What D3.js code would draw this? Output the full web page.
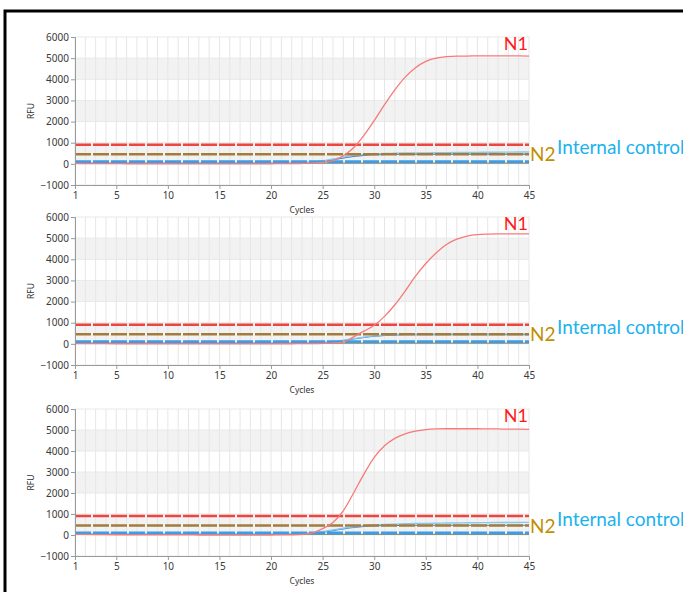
<!DOCTYPE html>
<html><head><meta charset="utf-8">
<script src="https://cdn.jsdelivr.net/npm/d3@7"></script>
<style>body{margin:0;background:#fff}svg{display:block}</style>
</head><body>
<svg id="c" width="683" height="592"></svg>
<script>
const cycles = [1,2,3,4,5,6,7,8,9,10,11,12,13,14,15,16,17,18,19,20,21,22,23,24,25,26,27,28,29,30,31,32,33,34,35,36,37,38,39,40,41,42,43,44,45];
const xTicks = [1,5,10,15,20,25,30,35,40,45];
const yTicks = [-1000,0,1000,2000,3000,4000,5000,6000];
const bands = [[0,1000],[2000,3000],[4000,5000]];
const thresholds = {N1: 900, N2: 450, IC: 100};

// Panel 1
const n1_p1 = [20,15,12,10,8,6,5,5,4,4,3,3,3,2,2,2,2,2,3,5,8,12,20,35,70,150,380,760,1350,2050,2800,3500,4100,4550,4850,5000,5070,5100,5100,5110,5110,5110,5110,5110,5100];
const n2_p1 = [30,30,30,30,30,30,30,30,30,30,30,30,30,30,30,30,30,30,30,30,30,30,30,30,30,30,30,30,30,30,30,30,30,30,30,30,30,30,30,30,30,30,30,30,30];
const icA_p1 = [60,60,60,60,60,60,60,60,60,60,60,60,60,60,60,60,60,60,60,60,62,65,70,85,140,230,320,390,440,470,490,500,510,515,520,525,530,535,540,545,548,552,555,558,560];
const icB_p1 = [50,50,50,50,50,50,50,50,50,50,50,50,50,50,50,50,50,50,50,50,52,55,60,70,110,190,280,350,400,430,450,455,460,462,463,464,465,465,465,465,465,465,465,465,465];

// Panel 2
const n1_p2 = [15,12,10,8,6,5,4,4,3,3,3,2,2,2,2,2,2,2,2,3,4,6,8,12,20,35,80,330,600,880,1300,1850,2500,3200,3800,4300,4700,4950,5100,5170,5190,5200,5200,5200,5200];
const n2_p2 = [30,30,30,30,30,30,30,30,30,30,30,30,30,30,30,30,30,30,30,30,30,30,30,30,30,30,30,30,30,30,30,30,30,30,30,30,30,30,30,30,30,30,30,30,30];
const icA_p2 = [60,60,60,60,60,60,60,60,60,60,60,60,60,60,60,60,60,60,60,60,60,60,62,65,72,100,170,250,320,380,420,445,455,460,462,464,465,466,467,468,468,469,470,470,470];
const icB_p2 = [50,50,50,50,50,50,50,50,50,50,50,50,50,50,50,50,50,50,50,50,50,50,52,55,62,85,150,230,300,360,400,425,435,438,440,440,440,440,440,440,440,440,440,440,440];

// Panel 3
const n1_p3 = [30,25,20,16,12,10,8,6,5,4,3,2,1,0,-2,-4,-5,-5,-4,0,5,10,25,90,300,600,1150,2000,2900,3700,4250,4600,4820,4950,5020,5050,5060,5060,5060,5060,5050,5050,5040,5040,5030];
const n2_p3 = [30,30,30,30,30,30,30,30,30,30,30,30,30,30,30,30,30,30,30,30,30,30,30,30,30,30,30,30,30,30,30,30,30,30,30,30,30,30,30,30,30,30,30,30,30];
const icA_p3 = [60,60,60,60,60,60,60,60,60,60,60,60,60,60,60,60,60,60,60,60,62,65,75,100,160,240,320,390,440,475,500,520,535,545,555,562,568,574,580,585,589,593,596,598,600];
const icB_p3 = [50,50,50,50,50,50,50,50,50,50,50,50,50,50,50,50,50,50,50,50,52,56,65,90,140,210,290,360,410,440,455,460,462,464,465,465,465,465,465,465,465,465,465,465,465];

const panels = [
  {top: 37, bottom: 185, n1: n1_p1, n2: n2_p1, icA: icA_p1, icB: icB_p1},
  {top: 217, bottom: 365, n1: n1_p2, n2: n2_p2, icA: icA_p2, icB: icB_p2},
  {top: 409, bottom: 556, n1: n1_p3, n2: n2_p3, icA: icA_p3, icB: icB_p3}
];

const svg = d3.select('#c');
const x = d3.scaleLinear().domain([1,45]).range([75,529]);
const tickFont = '"Noto Sans", "Open Sans", sans-serif';
const labFont = 'Lato, "Open Sans", sans-serif';

panels.forEach(p => {
  const y = d3.scaleLinear().domain([-1000,6000]).range([p.bottom, p.top]);
  const g = svg.append('g');
  g.selectAll('rect.band').data(bands).enter().append('rect')
    .attr('x', x(1)).attr('width', x(45)-x(1))
    .attr('y', d => y(d[1])).attr('height', d => y(d[0]) - y(d[1]))
    .attr('fill', '#f2f2f2');
  g.selectAll('line.hg').data(yTicks).enter().append('line')
    .attr('x1', x(1)).attr('x2', x(45)).attr('y1', d => y(d)).attr('y2', d => y(d))
    .attr('stroke', '#e9e9e9').attr('stroke-width', 1);
  g.selectAll('line.vg').data(cycles).enter().append('line')
    .attr('x1', d => x(d)).attr('x2', d => x(d)).attr('y1', y(6000)).attr('y2', y(-1000))
    .attr('stroke', '#e6e6e6').attr('stroke-width', 1);

  const line = d3.line().x((d,i) => x(cycles[i])).y(d => y(d)).curve(d3.curveMonotoneX);
  const thr = [
    {v: thresholds.IC, c: '#3c9de6', w: 3},
    {v: thresholds.N2, c: '#a47b3b', w: 2.5},
    {v: thresholds.N1, c: '#f0443f', w: 2.5}
  ];
  g.append('path').attr('d', line(p.n2)).attr('fill','none').attr('stroke','#b08a4a').attr('stroke-width',1.2);
  g.append('path').attr('d', line(p.icB)).attr('fill','none').attr('stroke','#3f7fbf').attr('stroke-width',1.2);
  g.append('path').attr('d', line(p.icA)).attr('fill','none').attr('stroke','#86c8f2').attr('stroke-width',1.4);
  thr.forEach(t => {
    g.append('line').attr('x1', x(1)).attr('x2', x(45)).attr('y1', y(t.v)).attr('y2', y(t.v))
      .attr('stroke', t.c).attr('stroke-width', t.w).attr('stroke-dasharray', '16,2');
  });
  g.append('path').attr('d', line(p.n1)).attr('fill','none').attr('stroke','#f77a7a').attr('stroke-width',1.3);

  const ya = g.append('g').attr('transform', `translate(${x(1)},0)`)
    .call(d3.axisLeft(y).tickValues(yTicks).tickSize(4).tickPadding(2).tickFormat(d3.format('d')));
  const xa = g.append('g').attr('transform', `translate(0,${y(-1000)})`)
    .call(d3.axisBottom(x).tickValues(xTicks).tickSize(4).tickPadding(3));
  [ya, xa].forEach(a => {
    a.select('.domain').attr('stroke', '#9a9a9a');
    a.selectAll('.tick line').attr('stroke', '#9a9a9a');
    a.selectAll('.tick text').attr('fill', '#3a3a3a').style('font-family', tickFont).style('font-size', '10px');
  });
  g.append('text').attr('transform', `translate(34,${(p.top+p.bottom)/2}) rotate(-90)`)
    .attr('text-anchor','middle').attr('fill','#333').style('font-family', tickFont).style('font-size','8.5px').text('RFU');
  g.append('text').attr('x', 302).attr('y', p.bottom + 28)
    .attr('text-anchor','middle').attr('fill','#333').style('font-family', tickFont).style('font-size','8.5px').text('Cycles');

  g.append('text').attr('x', 528).attr('y', p.top + 13).attr('text-anchor','end')
    .attr('fill','#ff1a1a').style('font-family', labFont).style('font-size','18px').text('N1');
  g.append('text').attr('x', 530).attr('y', p.top + 124)
    .attr('fill','#bf8f00').style('font-family', labFont).style('font-size','19px').text('N2');
  g.append('text').attr('x', 557).attr('y', p.top + 117)
    .attr('fill','#1ab2ee').style('font-family', labFont).style('font-size','19px').text('Internal control');
});

svg.append('rect').attr('x', 5).attr('y', 11).attr('width', 720).attr('height', 620)
  .attr('fill','none').attr('stroke','#000').attr('stroke-width',3);
</script>
</body></html>
